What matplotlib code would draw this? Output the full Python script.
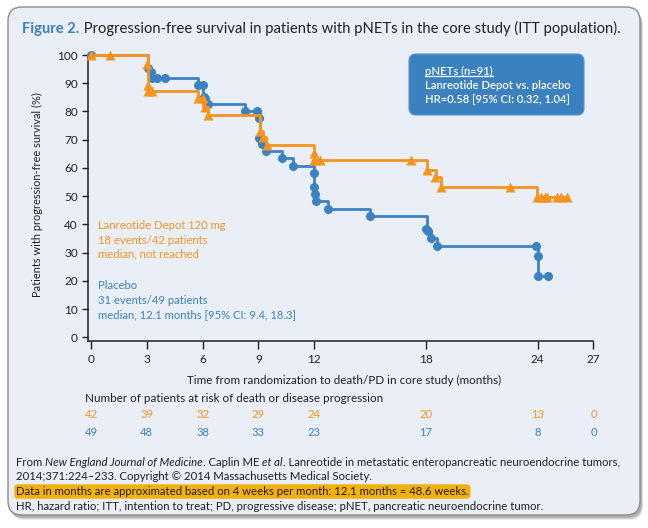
import matplotlib
matplotlib.use('Agg')
import matplotlib.pyplot as plt
import matplotlib.transforms as mtransforms
from matplotlib.patches import FancyBboxPatch
from matplotlib.lines import Line2D

# Lanreotide Depot 120 mg: step curve and marks (months, % free of progression)
lan_t = [0, 3.05, 5.75, 6.02, 6.28, 9.06, 9.23, 9.40, 11.96, 18.05, 18.53, 18.80, 23.95, 25.60]
lan_v = [100, 87.2, 84.6, 81.7, 78.7, 73.2, 70.9, 68.1, 62.8, 59.2, 56.7, 53.3, 49.8, 49.8]
lan_mt = [0, 1.02, 3.0, 3.05, 3.05, 3.3, 5.75, 6.0, 6.1, 6.28, 9.06, 9.23, 9.44, 11.96, 12.0,
          12.3, 17.2, 18.05, 18.5, 18.8, 22.5, 23.95, 24.16, 24.38, 24.52, 25.05, 25.24, 25.59]
lan_mv = [100, 100, 96.8, 89.4, 87.2, 87.2, 84.6, 84.6, 81.7, 78.7, 73.2, 70.9, 68.1, 65.2, 62.8,
          62.8, 62.8, 59.2, 56.7, 53.3, 53.3, 49.8, 49.8, 49.8, 49.8, 49.8, 49.8, 49.8]

# Placebo
pla_t = [0, 3.07, 3.15, 3.2, 5.77, 6.04, 6.27, 8.3, 9.06, 9.18, 9.42, 10.28, 10.85, 11.98,
         12.02, 12.05, 12.73, 15.0, 18.05, 18.27, 18.57, 24.0, 24.54]
pla_v = [100, 95.3, 94.1, 91.7, 89.2, 85.2, 82.8, 80.1, 70.7, 68.3, 66.0, 63.4, 60.8, 53.3,
         50.6, 48.2, 45.4, 43.0, 37.8, 35.3, 32.4, 21.6, 21.6]
pla_mt = [0, 3.06, 3.2, 3.26, 3.53, 3.98, 5.75, 6.0, 6.05, 6.3, 8.3, 8.9, 9.04, 9.04, 9.18,
          9.42, 10.28, 10.85, 11.98, 12.0, 12.02, 12.1, 12.73, 15.0, 18.0, 18.1, 18.27, 18.57,
          23.9, 24.0, 24.0, 24.54]
pla_mv = [100, 95.3, 94.1, 91.7, 91.7, 91.7, 89.2, 89.2, 85.2, 82.8, 80.1, 80.1, 77.8, 70.7,
          68.3, 66.0, 63.4, 60.8, 58.2, 53.3, 50.6, 48.2, 45.4, 43.0, 38.2, 37.8, 35.3, 32.4,
          32.4, 28.7, 21.6, 21.6]

# number at risk
risk_times = [0, 3, 6, 9, 12, 18, 24, 27]
risk_lan = [42, 39, 32, 29, 24, 20, 13, 0]
risk_pla = [49, 48, 38, 33, 23, 17, 8, 0]

xticks = [0, 3, 6, 9, 12, 18, 24, 27]
yticks = list(range(0, 101, 10))

ORANGE = '#F7941D'
BLUE = '#3A82C3'
BG = '#E9EEF7'
DARK = '#231F20'
BODY = ['Lato', 'DejaVu Sans']
NARROW = ['Liberation Sans Narrow', 'Lato', 'DejaVu Sans']

W, H = 648, 528
def fx(x):
    return x / W
def fy(y):
    return 1 - y / H

fig = plt.figure(figsize=(6.48, 5.28), dpi=100)
fig.patch.set_facecolor('white')
px = mtransforms.IdentityTransform()

# panel with soft shadow
for off, a in [(5, 0.12), (4, 0.18), (3, 0.25)]:
    fig.add_artist(FancyBboxPatch((8 + off * 0.6, H - 515 - off), 632, 508,
                                  boxstyle='round,pad=0,rounding_size=14', transform=px,
                                  fc='#555555', ec='none', alpha=a, zorder=0))
fig.add_artist(FancyBboxPatch((8, H - 515), 632, 508, boxstyle='round,pad=0,rounding_size=14',
                              transform=px, fc=BG, ec='#8C8C8C', lw=1, zorder=1))

# legend box
fig.add_artist(FancyBboxPatch((409, H - 115), 175, 61, boxstyle='round,pad=0,rounding_size=7',
                              transform=px, fc='#3B80BF', ec='#5A95CB', lw=0.8, zorder=2))

ax = fig.add_axes([fx(88.3), fy(341), (593.5 - 88.3) / W, (341 - 55) / H], zorder=3)
ax.patch.set_visible(False)
ax.step(pla_t, pla_v, where='post', color=BLUE, lw=2, clip_on=False, zorder=3)
ax.plot(pla_mt, pla_mv, 'o', ms=6.5, color=BLUE, mec='none', clip_on=False, zorder=4)
ax.step(lan_t, lan_v, where='post', color=ORANGE, lw=2, clip_on=False, zorder=5)
ax.plot(lan_mt, lan_mv, '^', ms=7, color=ORANGE, mec='none', clip_on=False, zorder=6)

ax.set_xlim(-0.145, 27)
ax.set_ylim(-1.3, 100)
ax.set_xticks(xticks)
ax.set_yticks(yticks)
for s in ['top', 'right']:
    ax.spines[s].set_visible(False)
for s in ['left', 'bottom']:
    ax.spines[s].set_color(DARK)
    ax.spines[s].set_linewidth(1.1)
ax.tick_params(axis='x', length=5.5, width=1, color=DARK, pad=4, labelcolor=DARK)
ax.tick_params(axis='y', length=4.5, width=1, color=DARK, pad=3, labelcolor=DARK)

body_texts = []
for i, line in enumerate(['Lanreotide Depot 120 mg', '18 events/42 patients', 'median, not reached']):
    body_texts.append(ax.text(0.38, 39.5 - 5.05 * i, line, color=ORANGE, va='center',
                              family=BODY))
for i, line in enumerate(['Placebo', '31 events/49 patients',
                          'median, 12.1 months [95% CI: 9.4, 18.3]']):
    body_texts.append(ax.text(0.38, 18.3 - 5.15 * i, line, color=BLUE, va='center',
                              family=BODY))

# axis labels
ylab = fig.text(fx(37), fy(195), 'Patients with progression-free survival (%)', rotation=90,
                ha='center', va='center', color=DARK, family=BODY)
xlab = fig.text(fx(344), fy(380), 'Time from randomization to death/PD in core study (months)',
                ha='center', va='center', color=DARK, family=BODY)
nlab = fig.text(fx(85), fy(399), 'Number of patients at risk of death or disease progression',
                ha='left', va='center', color=DARK, family=BODY)

# risk table, positioned on the chart's time scale
bt = mtransforms.blended_transform_factory(ax.transData, fig.transFigure)
for t, n in zip(risk_times, risk_lan):
    body_texts.append(ax.text(t, fy(414), str(n), transform=bt, ha='center', va='center',
                              color=ORANGE, family=BODY))
for t, n in zip(risk_times, risk_pla):
    body_texts.append(ax.text(t, fy(432.5), str(n), transform=bt, ha='center', va='center',
                              color=BLUE, family=BODY))

# legend text
leg = []
for i, line in enumerate(['pNETs (n=91)', 'Lanreotide Depot vs. placebo',
                          'HR=0.58 [95% CI: 0.32, 1.04]']):
    leg.append(fig.text(fx(425), fy(71 + 14.3 * i), line, color='white', va='center',
                        family=BODY, fontweight='semibold', zorder=5))

# title
t1 = fig.text(fx(22.5), fy(36), 'Figure 2.', color='#3B7FC1', fontweight='bold',
              va='bottom', family=NARROW)
t2 = ax.annotate(' Progression-free survival in patients with pNETs in the core study '
                 '(ITT population).', xy=(1, 0), xycoords=t1, va='bottom', ha='left',
                 color=DARK, family=NARROW)

# footer
foot_y = [462, 477, 491.5, 506]
pieces = [('From ', 'normal'), ('New England Journal of Medicine', 'italic'),
          ('. Caplin ME ', 'normal'), ('et al', 'italic'),
          ('. Lanreotide in metastatic enteropancreatic neuroendocrine tumors,', 'normal')]
f1 = [fig.text(fx(16), fy(foot_y[0] + 6), pieces[0][0], va='bottom', color=DARK, family=NARROW)]
for txt, st in pieces[1:]:
    f1.append(ax.annotate(txt, xy=(1, 0), xycoords=f1[-1], va='bottom', ha='left',
                          style=st, color=DARK, family=NARROW))
foot = list(f1)
foot.append(fig.text(fx(16), fy(foot_y[1]), '2014;371:224\u2013233. Copyright \u00a9 2014 '
                     'Massachusetts Medical Society.', va='center', color=DARK, family=NARROW))
foot.append(fig.text(fx(16), fy(foot_y[2]), 'Data in months are approximated based on 4 weeks '
                     'per month: 12.1 months = 48.6 weeks.', va='center', color=DARK,
                     family=NARROW, bbox=dict(boxstyle='round,pad=0.15,rounding_size=0.3',
                                              fc='#F2B10D', ec='none')))
foot.append(fig.text(fx(16), fy(foot_y[3]), 'HR, hazard ratio; ITT, intention to treat; PD, '
                     'progressive disease; pNET, pancreatic neuroendocrine tumor.', va='center',
                     color=DARK, family=NARROW))

# size fitting against target pixel sizes
def extent(a, b=None, vertical=False):
    fig.canvas.draw()
    r = fig.canvas.get_renderer()
    e1 = a.get_window_extent(r)
    e2 = (b or a).get_window_extent(r)
    if vertical:
        return e2.y1 - e1.y0
    return e2.x1 - e1.x0

def fit(group, a, target, b=None, vertical=False):
    for _ in range(2):
        k = target / extent(a, b, vertical)
        for g in group:
            g.set_fontsize(g.get_fontsize() * k)
    return a.get_fontsize()

s = fit(body_texts, body_texts[0], 127)
for lab in ax.get_xticklabels() + ax.get_yticklabels():
    lab.set_fontsize(s * 1.05)
    lab.set_family(BODY)
fit([ylab], ylab, 205, vertical=True)
fit([xlab], xlab, 310)
fit([nlab], nlab, 297)
fit(leg, leg[1], 147)
fit([t1, t2], t1, 596, t2)
fit(foot, f1[0], 605, f1[-1])

# underline legend heading
fig.canvas.draw()
e = leg[0].get_window_extent(fig.canvas.get_renderer())
fig.add_artist(Line2D([e.x0, e.x1], [e.y0 + 1, e.y0 + 1], transform=px, color='white', lw=0.9,
                      zorder=6))

fig.savefig('out.png', dpi=100, facecolor='white')
